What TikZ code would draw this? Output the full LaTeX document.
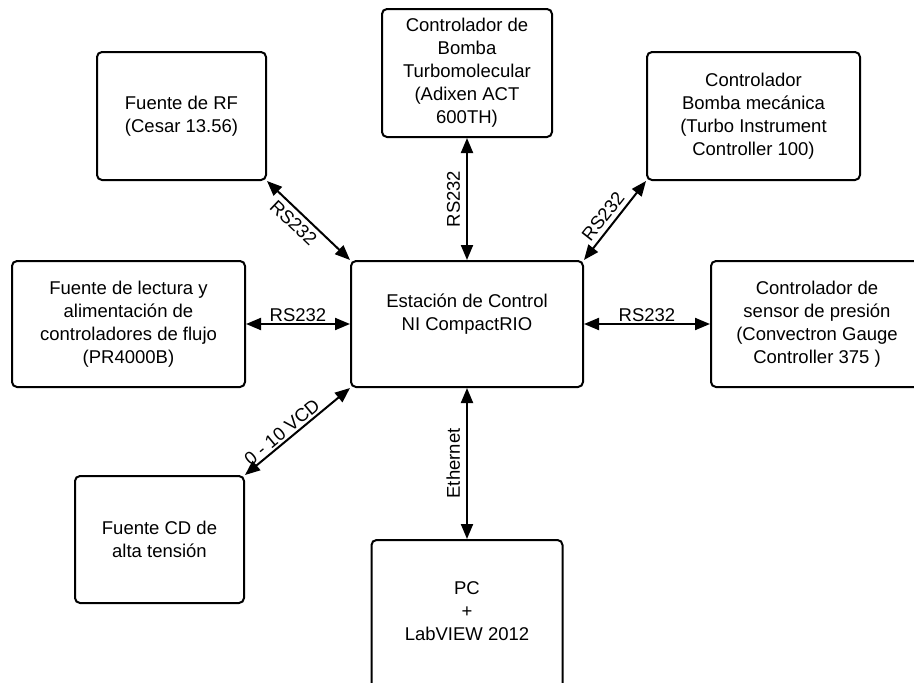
\documentclass[tikz,border=0pt]{standalone}
\usepackage{fontspec}
\setmainfont{Liberation Sans}
\usetikzlibrary{arrows.meta}
\begin{document}
\begin{tikzpicture}[x=1pt,y=-1pt,
  txt/.style={font=\fontsize{18.5}{23}\selectfont},
  box/.style={txt, draw, line width=2pt, rounded corners=5pt, align=center, inner sep=0pt},
  lnk/.style={line width=2pt, {Triangle[length=15pt,width=12pt]}-{Triangle[length=15pt,width=12pt]}},
  lbl/.style={txt, inner sep=2pt}]
\useasboundingbox (0,0) rectangle (914,683);
\clip (0,0) rectangle (914,683);
\node[box, minimum width=169pt, minimum height=128pt] (rf) at (181.5,116) {Fuente de RF\\(Cesar 13.56)};
\node[box, minimum width=170pt, minimum height=128pt] (turbo) at (467,73) {Controlador de\\Bomba\\Turbomolecular\\(Adixen ACT\\600TH)};
\node[box, minimum width=213pt, minimum height=128pt] (bomba) at (753.5,116) {Controlador\\Bomba mecánica\\(Turbo Instrument\\Controller 100)};
\node[box, minimum width=233pt, minimum height=126pt] (lect) at (128.5,324) {Fuente de lectura y\\alimentación de\\controladores de flujo\\(PR4000B)};
\node[box, minimum width=232pt, minimum height=126pt] (est) at (467,324) {Estación de Control\\NI CompactRIO\\\mbox{}};
\node[box, minimum width=212pt, minimum height=126pt] (sens) at (817,324) {Controlador de\\sensor de presión\\(Convectron Gauge\\Controller 375 )};
\node[box, minimum width=169pt, minimum height=127pt] (cd) at (159.5,539.5) {Fuente CD de\\alta tensión};
\node[box, minimum width=191pt, minimum height=160pt, anchor=north,
  label={[name=pctext, txt, align=center, yshift=9pt]center:{PC\\+\\LabVIEW 2012}}] (pc) at (467,539) {};
\draw[lnk] (rf.south east) -- node[lbl, sloped, below, pos=0.42, inner sep=4.5pt] {RS232} (est.north west);
\draw[lnk] (est.north) -- node[lbl, sloped, above, inner sep=6pt] {RS232} (turbo.south);
\draw[lnk] (est.north east) -- node[lbl, sloped, above, pos=0.46, inner sep=4.5pt] {RS232} (bomba.south west);
\draw[lnk] (lect.east) -- node[lbl, above, inner sep=1pt] {RS232} (est.west);
\draw[lnk] (est.east) -- node[lbl, above, inner sep=1pt] {RS232} (sens.west);
\draw[lnk] (cd.north east) -- node[lbl, sloped, above, pos=0.41, inner sep=2pt] {0 - 10 VCD} (est.south west);
\draw[lnk] (pc.north) -- node[lbl, sloped, above, inner sep=6pt] {Ethernet} (est.south);
\end{tikzpicture}
\end{document}
